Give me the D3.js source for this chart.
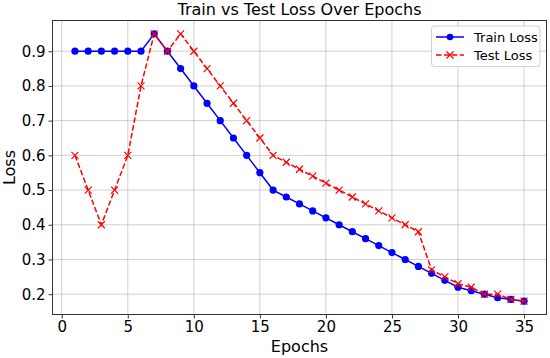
<!DOCTYPE html>
<html><head><meta charset="utf-8">
<script src="https://cdn.jsdelivr.net/npm/d3@7"></script>
<style>body{margin:0;background:#fff}text{font-family:"DejaVu Sans",sans-serif}</style>
</head><body><svg id="c" width="550" height="358"></svg>
<script>
const epochs = d3.range(1, 36);
const trainLoss = [0.9,0.9,0.9,0.9,0.9,0.9,0.95,0.9,0.85,0.8,0.75,0.7,0.65,0.6,0.55,0.5,0.48,0.46,0.44,0.42,0.40,0.38,0.36,0.34,0.32,0.30,0.28,0.26,0.24,0.22,0.21,0.20,0.19,0.185,0.18];
const testLoss = [0.6,0.5,0.4,0.5,0.6,0.8,0.95,0.9,0.95,0.9,0.85,0.8,0.75,0.7,0.65,0.6,0.58,0.56,0.54,0.52,0.50,0.48,0.46,0.44,0.42,0.40,0.38,0.27,0.25,0.23,0.22,0.20,0.20,0.185,0.18];
const xTicks = [0,5,10,15,20,25,30,35];
const yTicks = [0.2,0.3,0.4,0.5,0.6,0.7,0.8,0.9];
const seriesNames = ["Train Loss","Test Loss"];

const svg = d3.select("#c");
const L = 52.5, R = 546.5, T = 20.5, B = 314.5;
const x = d3.scaleLinear().domain([-0.7, 36.7]).range([L, R]);
const y = d3.scaleLinear().domain([0.1415, 0.9885]).range([B, T]);

// grid
const g = svg.append("g");
g.selectAll(".vx").data(xTicks).join("line")
  .attr("x1", d => x(d)).attr("x2", d => x(d)).attr("y1", T).attr("y2", B)
  .attr("stroke", "#b0b0b0").attr("stroke-opacity", 0.6).attr("stroke-width", 1);
g.selectAll(".hy").data(yTicks).join("line")
  .attr("y1", d => y(d)).attr("y2", d => y(d)).attr("x1", L).attr("x2", R)
  .attr("stroke", "#b0b0b0").attr("stroke-opacity", 0.6).attr("stroke-width", 1);

// axes
const xAxis = svg.append("g").attr("transform", `translate(0,${B})`)
  .call(d3.axisBottom(x).tickValues(xTicks).tickSize(4).tickPadding(3).tickFormat(d3.format("d")));
const yAxis = svg.append("g").attr("transform", `translate(${L},0)`)
  .call(d3.axisLeft(y).tickValues(yTicks).tickSize(4).tickPadding(3).tickFormat(d3.format(".1f")));
[xAxis, yAxis].forEach(a => {
  a.select(".domain").remove();
  a.selectAll("text").attr("font-size", 15).attr("fill", "#000").style("font-family", "DejaVu Sans");
  a.selectAll("line").attr("stroke", "#333");
});
svg.append("rect").attr("x", L).attr("y", T).attr("width", R - L).attr("height", B - T)
  .attr("fill", "none").attr("stroke", "#333").attr("stroke-width", 1);

// lines
const trainData = epochs.map((e, i) => [e, trainLoss[i]]);
const testData = epochs.map((e, i) => [e, testLoss[i]]);
const line = d3.line().x(d => x(d[0])).y(d => y(d[1]));
svg.append("path").datum(trainData).attr("d", line).attr("fill", "none")
  .attr("stroke", "#0000ff").attr("stroke-width", 1.5);
svg.selectAll(".tc").data(trainData).join("circle")
  .attr("cx", d => x(d[0])).attr("cy", d => y(d[1])).attr("r", 3.6).attr("fill", "#0000ff");

svg.append("path").datum(testData).attr("d", line).attr("fill", "none")
  .attr("stroke", "#ff0000").attr("stroke-width", 1.5).attr("stroke-dasharray", "5.5,2.4");
const s = 3.5;
svg.selectAll(".tx").data(testData).join("path")
  .attr("d", d => { const cx = x(d[0]), cy = y(d[1]); return `M${cx-s},${cy-s}L${cx+s},${cy+s}M${cx-s},${cy+s}L${cx+s},${cy-s}`; })
  .attr("stroke", "#ff0000").attr("stroke-width", 1.2).attr("fill", "none");

// title and labels
svg.append("text").attr("x", (L + R) / 2).attr("y", 15).attr("text-anchor", "middle")
  .attr("font-size", 16).text("Train vs Test Loss Over Epochs");
svg.append("text").attr("x", (L + R) / 2).attr("y", 352).attr("text-anchor", "middle")
  .attr("font-size", 16).text("Epochs");
svg.append("text").attr("transform", `translate(15,${(T + B) / 2}) rotate(-90)`).attr("text-anchor", "middle")
  .attr("font-size", 16).text("Loss");

// legend
const lg = svg.append("g");
lg.append("rect").attr("x", 431.5).attr("y", 26).attr("width", 108.5).attr("height", 40.5).attr("rx", 3)
  .attr("fill", "#fff").attr("fill-opacity", 0.8).attr("stroke", "#d0d0d0");
const ly = [37, 55];
lg.append("line").attr("x1", 436).attr("x2", 464).attr("y1", ly[0]).attr("y2", ly[0]).attr("stroke", "#0000ff").attr("stroke-width", 1.5);
lg.append("circle").attr("cx", 450).attr("cy", ly[0]).attr("r", 3.3).attr("fill", "#0000ff");
lg.append("line").attr("x1", 436).attr("x2", 464).attr("y1", ly[1]).attr("y2", ly[1]).attr("stroke", "#ff0000").attr("stroke-width", 1.5).attr("stroke-dasharray", "5.5,2.4");
lg.append("path").attr("d", `M${450-s},${ly[1]-s}L${450+s},${ly[1]+s}M${450-s},${ly[1]+s}L${450+s},${ly[1]-s}`).attr("stroke", "#ff0000").attr("stroke-width", 1.2);
seriesNames.forEach((n, i) => lg.append("text").attr("x", 474).attr("y", ly[i] + 4.5).attr("font-size", 13).text(n));
</script></body></html>
